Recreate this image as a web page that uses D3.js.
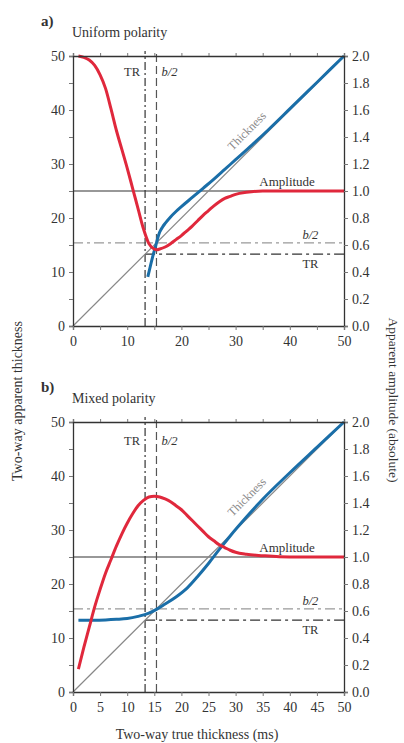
<!DOCTYPE html>
<html>
<head>
<meta charset="utf-8">
<script src="https://cdn.jsdelivr.net/npm/d3@7"></script>
<style>
  body { margin: 0; background: #fff; }
  text { font-family: "Liberation Serif", "DejaVu Serif", serif; fill: #333; }
</style>
</head>
<body>
<svg width="404" height="743"></svg>
<script>
// reference thicknesses (ms)
const tuningThickness = 13.3;
const halfB = 15.4;

// a) uniform polarity
const uniAmpX = [1, 2, 3, 4, 5, 6, 7, 8, 9, 10, 11, 12, 13, 14, 15, 15.5, 16, 17, 18, 19, 20, 21, 22, 23, 24, 25, 26, 27, 28, 29, 30, 32, 35, 40, 50];
const uniAmp  = [2.0, 1.99, 1.97, 1.93, 1.86, 1.76, 1.61, 1.45, 1.31, 1.17, 1.02, 0.87, 0.72, 0.61, 0.57, 0.565, 0.57, 0.585, 0.61, 0.64, 0.67, 0.705, 0.74, 0.78, 0.82, 0.855, 0.89, 0.92, 0.945, 0.96, 0.975, 0.99, 1.0, 1.0, 1.0];
const uniThkX = [13.8, 14.3, 14.8, 15.3, 15.7, 16, 16.5, 17, 18, 19, 20, 22, 24, 26, 28, 30, 33, 36, 40, 45, 50];
const uniThk  = [9.1, 11.2, 13.2, 15.0, 16.5, 17.4, 18.3, 19.0, 20.2, 21.2, 22.1, 23.8, 25.5, 27.2, 29.0, 30.8, 33.5, 36.3, 40.2, 45.1, 50];

// b) mixed polarity
const mixAmpX = [1, 2, 3, 4, 5, 6, 7, 8, 9, 10, 11, 12, 13, 14, 15, 16, 17, 18, 19, 20, 21, 22, 23, 24, 25, 26, 27, 28, 29, 30, 32, 35, 40, 50];
const mixAmp  = [0.17, 0.33, 0.48, 0.63, 0.76, 0.88, 0.98, 1.08, 1.17, 1.25, 1.32, 1.38, 1.42, 1.445, 1.45, 1.445, 1.43, 1.41, 1.38, 1.35, 1.31, 1.27, 1.23, 1.19, 1.15, 1.12, 1.09, 1.07, 1.05, 1.035, 1.02, 1.01, 1.0, 1.0];
const mixThkX = [1, 2, 4, 6, 8, 10, 12, 14, 15.4, 17, 19, 21, 23, 25, 27, 29, 32, 35, 40, 45, 50];
const mixThk  = [13.3, 13.3, 13.3, 13.35, 13.45, 13.6, 14, 14.6, 15.3, 16.3, 17.6, 19.2, 21.4, 23.8, 26.4, 28.9, 32.4, 35.7, 40.6, 45.3, 50];

const thickTicks = d3.range(0, 51, 5);
const ampTicks = d3.range(0, 11).map(i => i * 0.2);

const red = "#e0283c", blue = "#1a6ea8";

const svg = d3.select("svg");
const x = d3.scaleLinear().domain([0, 50]).range([73, 344]);

function drawPanel(top, letter, title, ampX, amp, thkX, thk, allXLabels, labelDy) {
    const h = 270;
    const y = d3.scaleLinear().domain([0, 50]).range([top + h, top]);
    const a = d3.scaleLinear().domain([0, 2]).range([top + h, top]);
    const g = svg.append("g");

    g.append("text").attr("x", 41).attr("y", top - 30).style("font-size", "15px")
        .style("font-weight", "bold").text(letter);
    g.append("text").attr("x", 72).attr("y", top - 19).style("font-size", "14px").text(title);

    // reference lines
    g.append("line").attr("x1", x(0)).attr("x2", x(50)).attr("y1", a(1)).attr("y2", a(1))
        .attr("stroke", "#333").attr("stroke-width", 1.1);
    g.append("line").attr("x1", x(0)).attr("x2", x(50)).attr("y1", y(halfB)).attr("y2", y(halfB))
        .attr("stroke", "#999").attr("stroke-width", 1.2).attr("stroke-dasharray", "10,4,3,4");
    g.append("line").attr("x1", x(tuningThickness)).attr("x2", x(50)).attr("y1", y(tuningThickness)).attr("y2", y(tuningThickness))
        .attr("stroke", "#333").attr("stroke-width", 1.2).attr("stroke-dasharray", "10,4,3,4");
    g.append("line").attr("x1", x(tuningThickness)).attr("x2", x(tuningThickness)).attr("y1", y(0)).attr("y2", top - 5)
        .attr("stroke", "#333").attr("stroke-width", 1.2).attr("stroke-dasharray", "8,3,2,3");
    g.append("line").attr("x1", x(halfB)).attr("x2", x(halfB)).attr("y1", y(0)).attr("y2", top - 5)
        .attr("stroke", "#555").attr("stroke-width", 1.2).attr("stroke-dasharray", "8,4");

    // 1:1 line
    g.append("line").attr("x1", x(0)).attr("y1", y(0)).attr("x2", x(50)).attr("y2", y(50))
        .attr("stroke", "#888").attr("stroke-width", 1.2);

    const line = d3.line().curve(d3.curveMonotoneX);
    g.append("path").attr("d", line(thkX.map((v, i) => [x(v), y(thk[i])])))
        .attr("fill", "none").attr("stroke", blue).attr("stroke-width", 3);
    g.append("path").attr("d", line(ampX.map((v, i) => [x(v), a(amp[i])])))
        .attr("fill", "none").attr("stroke", red).attr("stroke-width", 3);

    // labels
    g.append("text").attr("x", x(tuningThickness) - 5).attr("y", top + labelDy)
        .attr("text-anchor", "end").style("font-size", "12.5px").text("TR");
    g.append("text").attr("x", x(halfB) + 5).attr("y", top + labelDy)
        .style("font-size", "12.5px").style("font-style", "italic").text("b/2");
    g.append("text").attr("x", x(43.8)).attr("y", y(halfB) - 4)
        .attr("text-anchor", "middle").style("font-size", "12.5px").style("font-style", "italic").text("b/2");
    g.append("text").attr("x", x(43.8)).attr("y", y(tuningThickness) + 14)
        .attr("text-anchor", "middle").style("font-size", "12.5px").text("TR");
    g.append("text").attr("x", x(39.5)).attr("y", a(1) - 5)
        .attr("text-anchor", "middle").style("font-size", "13px").text("Amplitude");
    g.append("text").attr("transform", `translate(${x(32.6)},${y(35.6)}) rotate(-45)`)
        .attr("text-anchor", "middle").style("font-size", "12px").style("fill", "#888").text("Thickness");

    // frame + axes
    const tickStyle = sel => {
        sel.select(".domain").attr("stroke", "#333").attr("stroke-width", 1.3);
        sel.selectAll(".tick line").attr("stroke", "#777");
        sel.selectAll(".tick text").style("font-size", "14px").attr("fill", "#444")
            .style("font-family", "Liberation Serif, serif");
    };
    g.append("g").attr("transform", `translate(${x(0)},0)`)
        .call(d3.axisLeft(y).tickValues(thickTicks).tickSize(4).tickPadding(4)
            .tickFormat(d => d % 10 === 0 ? d : ""))
        .call(tickStyle);
    g.append("g").attr("transform", `translate(${x(50)},0)`)
        .call(d3.axisRight(a).tickValues(ampTicks).tickSize(4).tickPadding(4).tickFormat(d3.format(".1f")))
        .call(tickStyle);
    g.append("g").attr("transform", `translate(0,${y(0)})`)
        .call(d3.axisBottom(x).tickValues(thickTicks).tickSize(4).tickPadding(6)
            .tickFormat(d => allXLabels || d % 10 === 0 ? d : ""))
        .call(tickStyle);
    g.append("g").attr("transform", `translate(0,${y(50)})`)
        .call(d3.axisTop(x).tickValues(thickTicks).tickSize(3).tickFormat(""))
        .call(tickStyle);
}

drawPanel(56, "a)", "Uniform polarity", uniAmpX, uniAmp, uniThkX, uniThk, false, 20);
drawPanel(422, "b)", "Mixed polarity", mixAmpX, mixAmp, mixThkX, mixThk, true, 23);

svg.append("text").attr("x", 197).attr("y", 739).attr("text-anchor", "middle")
    .style("font-size", "14px").text("Two-way true thickness (ms)");
svg.append("text").attr("transform", "translate(22,401) rotate(-90)").attr("text-anchor", "middle")
    .style("font-size", "14px").text("Two-way apparent thickness");
svg.append("text").attr("transform", "translate(389,400) rotate(90)").attr("text-anchor", "middle")
    .style("font-size", "13.5px").text("Apparent amplitude (absolute)");
</script>
</body>
</html>
